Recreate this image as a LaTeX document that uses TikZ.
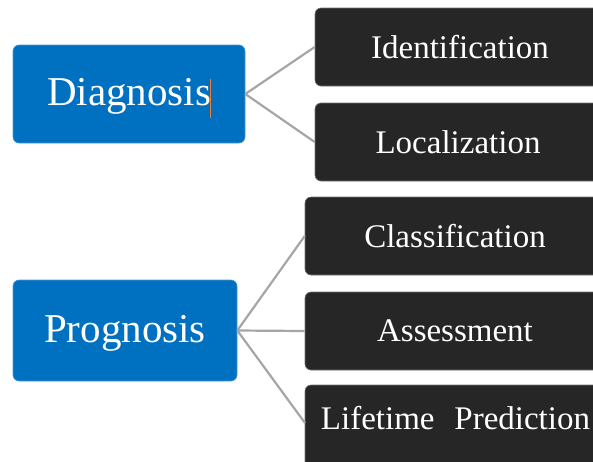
\documentclass[tikz,border=0pt]{standalone}
\usepackage{fontspec}
\setmainfont{Liberation Serif}
\definecolor{boxblue}{HTML}{0070C0}
\definecolor{boxdark}{HTML}{262626}
\definecolor{linegrey}{HTML}{A6A6A6}
\definecolor{cursor}{HTML}{ED7D31}
\begin{document}
\begin{tikzpicture}[x=1pt,y=-1pt,
  mainbox/.style={fill=boxblue, draw=boxblue!70!white, line width=0.6pt, rounded corners=6pt, text=white, font=\fontsize{41}{41}\selectfont, inner sep=0pt, text height=28pt, text depth=5pt},
  subbox/.style={fill=boxdark, draw=black!55, line width=0.6pt, rounded corners=6pt, text=white, font=\fontsize{33}{33}\selectfont, inner sep=0pt, minimum height=78pt, minimum width=300pt},
  link/.style={draw=linegrey, line width=2.2pt}]
\clip (0,0) rectangle (593,461);
\fill[white] (0,0) rectangle (593,461);
% main boxes
\node[mainbox, minimum width=232pt, minimum height=98pt] (diag) at (129,94) {Diagnosis};
\node[mainbox, minimum width=224pt, minimum height=101pt] (prog) at (125,330.5) {Prognosis};
% sub boxes
\node[subbox] (ident) at (465,47) {\hspace*{-10pt}Identification};
\node[subbox] (local) at (465,142) {\hspace*{-14pt}Localization};
\node[subbox] (class) at (455,236) {Classification};
\node[subbox] (assess) at (455,331) {Assessment};
\node[subbox, minimum height=90pt] (life) at (455,430) {};
\node[text=white, font=\fontsize{33}{33}\selectfont, inner sep=0pt] (lifetxt) at (455.5,418) {Lifetime\hspace{0.6em}Prediction};
% cursor mark
\draw[cursor, line width=1pt] (210,79) -- (210,118);
% connectors
\draw[link] (diag.east) -- (ident.west);
\draw[link] (diag.east) -- (local.west);
\draw[link] (prog.east) -- (class.west);
\draw[link] (prog.east) -- (assess.west);
\draw[link] (prog.east) -- (305,423);
\end{tikzpicture}
\end{document}
